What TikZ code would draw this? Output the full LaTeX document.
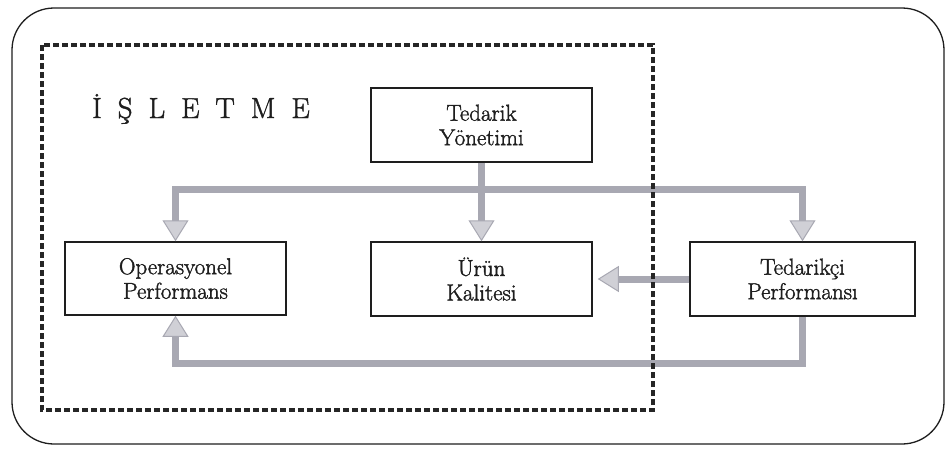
\documentclass[tikz,border=0pt]{standalone}
\usepackage{fontspec}
\newfontfamily\boxfont{Latin Modern Roman}[FakeBold=1.6]
\usetikzlibrary{arrows.meta}
\definecolor{bargray}{RGB}{168,168,178}
\definecolor{headgray}{RGB}{208,208,214}
\definecolor{inkc}{RGB}{30,30,30}
\begin{document}
\begin{tikzpicture}[x=1pt,y=-1pt,
  box/.style={draw=inkc, line width=1.5pt, fill=white, align=center, inner sep=0pt,
    font=\boxfont\fontsize{23}{24.5}\selectfont, text=inkc},
  tip/.style={},
  flow/.style={draw=bargray, line width=7pt, line join=miter,
    -{Triangle[length=21pt, width=26pt, fill=headgray, line width=1pt]}},
  flowboth/.style={draw=bargray, line width=7pt, line join=miter,
    {Triangle[length=21pt, width=26pt, fill=headgray, line width=1pt]}-{Triangle[length=21pt, width=26pt, fill=headgray, line width=1pt]}},
  frame/.style={draw=inkc, line width=1.3pt, rounded corners=42pt},
  dotted frame/.style={draw=black!85, line width=4.8pt, dash pattern=on 6pt off 3pt}
]
\useasboundingbox (0,0) rectangle (948,448);
\fill[white] (0,0) rectangle (948,448);

% outer rounded frame
\draw[frame] (12,8) rectangle (944,444);

% boxes
\node[box, minimum width=221pt, minimum height=74pt] (ted) at (481.5,125) {Tedarik\\Yönetimi};
\node[box, minimum width=221pt, minimum height=73pt] (op) at (175.5,278.5) {Operasyonel\\Performans};
\node[box, minimum width=221pt, minimum height=74pt] (urun) at (481.5,279) {Ürün\\Kalitesi};
\node[box, minimum width=225pt, minimum height=74pt] (tp) at (802.5,279) {Tedarikçi\\Performansı};

% label
\node[anchor=base west, inner sep=0pt, font=\boxfont\fontsize{29}{32}\selectfont, text=inkc] (isl) at (92,118)
  {İ\hspace{16pt}Ş\hspace{16pt}L\hspace{16pt}E\hspace{16pt}T\hspace{16pt}M\hspace{16pt}E};

% connectors
\coordinate (hl) at (op.north |- 0,189);
\coordinate (hr) at (tp.north |- 0,189);
\coordinate (bl) at (op.south |- 0,363);
\coordinate (br) at (tp.south |- 0,363);

\draw[flowboth] (op.north) -- (hl) -- (hr) -- (tp.north);
\draw[flow] (ted.south) -- (urun.north);
\draw[flow, shorten >=5pt] (tp.west) -- (urun.east);
\draw[flow] (tp.south) -- (br) -- (bl) -- (op.south);

% dotted enterprise boundary
\draw[dotted frame] (42,45) rectangle (653,410);
\end{tikzpicture}
\end{document}
